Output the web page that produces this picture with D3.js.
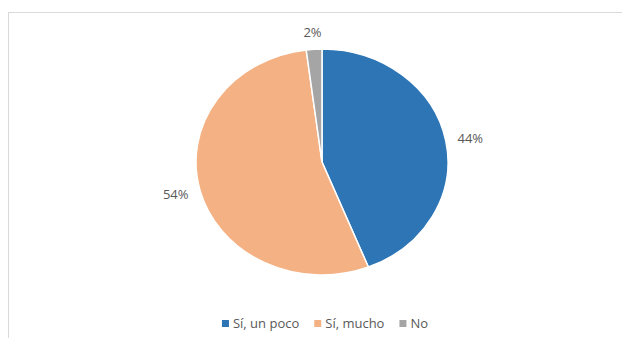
<!DOCTYPE html>
<html lang="es">
<head>
	<meta charset="utf-8">
	<title>Pie</title>
	<script src="https://d3js.org/d3.v7.min.js"></script>
	<style type="text/css">
		body{ margin:0; background:#ffffff; }
		svg{ display:block; }
		.pieLabel, .legendLabel{
			font-family: "Open Sans", sans-serif;
			fill: #595959;
		}
	</style>
</head>
<body>
	<svg id="chart" width="622" height="338"></svg>

	<script type="text/javascript">

	// data
	var categories = ["Sí, un poco", "Sí, mucho", "No"]
	var values = [44, 54, 2]
	var labels = ["44%", "54%", "2%"]
	var colors = ["#2e75b6", "#f4b183", "#a5a5a5"]

	// layout
	var W = 622, H = 338
	var cx = 322, cy = 162
	var rx = 126, ry = 113
	var labelRx = 151, labelRy = 130

	var svg = d3.select("#chart")

	// chart frame (only top and left visible)
	svg.append("rect")
		.attr("x", 8.5)
		.attr("y", 12.5)
		.attr("width", W)
		.attr("height", H)
		.attr("fill", "none")
		.attr("stroke", "#d9d9d9")

	var pie = d3.pie().sort(null).value(d => d)
	var arcs = pie(values)

	var arc = d3.arc().innerRadius(0).outerRadius(ry)

	// pie is slightly stretched horizontally
	var g = svg.append("g")
		.attr("transform", "translate(" + cx + "," + cy + ") scale(" + (rx / ry) + ",1)")

	g.selectAll("path")
		.data(arcs)
		.join("path")
		.attr("d", arc)
		.attr("fill", (d, i) => colors[i])
		.attr("stroke", "#ffffff")
		.attr("stroke-width", 1.5)
		.attr("vector-effect", "non-scaling-stroke")

	// labels outside
	svg.append("g")
		.selectAll("text")
		.data(arcs)
		.join("text")
		.attr("class", "pieLabel")
		.attr("text-anchor", "middle")
		.attr("dominant-baseline", "central")
		.attr("font-size", 13)
		.attr("x", d => {
			var a = (d.startAngle + d.endAngle) / 2
			return cx + labelRx * Math.sin(a)
		})
		.attr("y", d => {
			var a = (d.startAngle + d.endAngle) / 2
			return cy - labelRy * Math.cos(a)
		})
		.text((d, i) => labels[i])

	// legend
	var legend = svg.append("g").attr("class", "legend")
	var items = legend.selectAll("g")
		.data(categories)
		.join("g")

	items.append("rect")
		.attr("width", 7)
		.attr("height", 7)
		.attr("y", -8)
		.attr("fill", (d, i) => colors[i])

	items.append("text")
		.attr("class", "legendLabel")
		.attr("x", 11)
		.attr("y", 0)
		.attr("font-size", 13)
		.text(d => d)

	var xPos = 0
	items.each(function(d, i){
		var w = this.querySelector("text").getComputedTextLength()
		d3.select(this).attr("transform", "translate(" + xPos + ",0)")
		xPos += 11 + w + 15
	})
	var totalW = xPos - 15
	legend.attr("transform", "translate(" + (325 - totalW / 2) + ",328)")

	</script>
</body>
</html>
